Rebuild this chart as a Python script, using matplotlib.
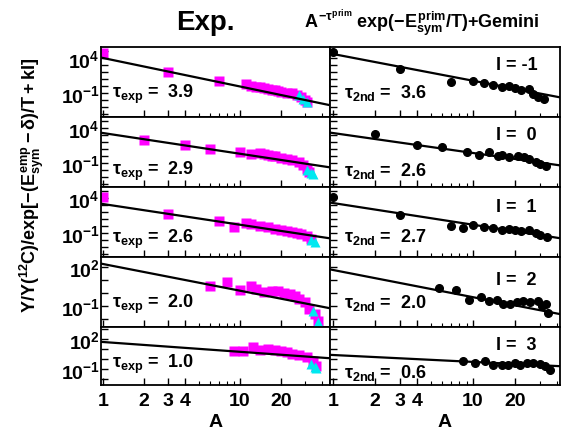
import matplotlib
matplotlib.use("Agg")
import matplotlib.pyplot as plt
import numpy as np

plt.rcParams['font.family'] = ['Liberation Sans', 'DejaVu Sans']
plt.rcParams['font.weight'] = 'bold'
plt.rcParams['mathtext.fontset'] = 'custom'
plt.rcParams['mathtext.rm'] = 'Liberation Sans:bold'
plt.rcParams['mathtext.it'] = 'Liberation Sans:bold'
plt.rcParams['mathtext.bf'] = 'Liberation Sans:bold'

# ---- data (y values stored as log10) ----
# left column: experiment (magenta squares + cyan triangles)
exp_A = [
    [1, 3, 7, 11, 12, 13, 14, 15, 16, 17, 18, 19, 20, 22, 24, 26, 28, 30, 31],
    [2, 4, 6, 10, 12, 14, 15, 16, 17, 18, 20, 22, 24, 27, 29, 31, 32],
    [1, 3, 7, 9, 11, 12, 14, 16, 18, 20, 22, 24, 26, 28, 31, 33],
    [6, 8, 10, 12, 13, 15, 17, 19, 21, 23, 25, 27, 30, 32, 35, 37],
    [9, 10.5, 12.4, 14, 16, 18, 20, 22, 24, 27, 31, 34, 36],
]
exp_logy = [
    [4.7, 2.0, 0.75, 0.3, 0.1, -0.1, -0.1, -0.25, -0.4, -0.55, -0.6, -0.75, -0.8, -0.9, -1.0, -1.2, -1.6, -2.0, -2.3],
    [2.3, 1.6, 1.05, 0.6, 0.3, 0.45, 0.3, 0.2, 0.05, 0.0, -0.2, -0.4, -0.6, -0.85, -1.3, -1.8, -2.3],
    [4.17, 1.75, 0.75, -0.1, 0.45, 0.3, 0.05, -0.15, -0.4, -0.5, -0.7, -0.85, -0.95, -1.1, -1.4, -1.8],
    [0.57, 0.88, 0.26, 0.57, 0.35, 0.1, 0.15, 0.18, 0.05, -0.05, -0.2, -0.43, -0.7, -1.2, -1.6, -2.1],
    [0.8, 0.8, 1.2, 0.9, 1.0, 0.9, 0.8, 0.7, 0.5, 0.4, 0.2, -0.2, -0.7],
]
cyan_A = [[27, 29, 31], [31, 33, 34], [33, 35], [34, 37], [33, 35, 36]]
cyan_logy = [[-1.3, -1.8, -2.3], [-2.0, -2.4, -2.6], [-1.9, -2.3], [-1.4, -2.2], [-0.5, -0.8, -0.9]]

# right column: primary + Gemini (black dots)
sim_A = [
    [1, 3, 7, 10, 12, 14, 16, 18, 20, 22, 25, 27, 29, 32],
    [2, 4, 6, 9, 11, 13, 15, 16, 18, 21, 23, 25, 28, 30, 33],
    [1, 3, 7, 8.5, 10, 12, 14, 16, 18, 20, 22, 25, 28, 30, 34],
    [5.7, 7.5, 9.4, 11.4, 13, 14.8, 16.4, 18.4, 20.6, 22.8, 25.5, 29, 31, 33, 34.4],
    [8.5, 10.3, 12.2, 13.9, 16, 17.8, 19.9, 21.6, 24.2, 26.8, 30, 32.6, 35.5],
]
sim_logy = [
    [4.9, 2.46, 0.6, 0.74, 0.46, 0.17, -0.11, 0.03, -0.26, -0.54, -0.4, -1.1, -1.54, -1.83],
    [3.17, 1.6, 1.31, 0.6, 0.17, 0.6, 0.03, 0.17, -0.11, 0.03, -0.11, -0.4, -0.83, -1.1, -1.4],
    [4.17, 1.6, 0.03, -0.26, 0.17, -0.11, -0.26, -0.54, -0.4, -0.54, -0.69, -0.54, -0.97, -1.26, -1.54],
    [0.42, 0.26, -0.5, -0.3, -0.6, -0.5, -0.8, -0.8, -0.7, -0.6, -0.7, -0.6, -1.0, -0.8, -1.5],
    [-0.2, -0.4, -0.2, -0.6, -0.6, -0.6, -0.4, -0.6, -0.4, -0.4, -0.5, -0.7, -1.1],
]

# power-law fit lines: log10(amplitude), slope
exp_fit = [(4.03, 4.07), (3.31, 2.96), (3.17, 2.96), (2.26, 2.06), (1.7, 0.98)]
sim_fit = [(4.6, 3.82), (3.31, 2.85), (3.31, 3.1), (1.8, 2.1), (0.4, 0.69)]

tau_exp = ["3.9", "2.9", "2.6", "2.0", "1.0"]
tau_2nd = ["3.6", "2.6", "2.7", "2.0", "0.6"]
I_labels = ["-1", " 0", " 1", " 2", " 3"]

row_ylim = [(-4.4, 5.6), (-4.4, 5.6), (-4.4, 5.6), (-2.6, 2.8), (-2.6, 3.2)]
row_labeled = [(4, -1), (4, -1), (4, -1), (2, -1), (2, -1)]
xticks = [1, 2, 3, 4, 10, 20]

# ---- layout (pixel boxes) ----
W, H = 575, 435
rows_px = [(48, 118), (118, 188), (188, 258), (258, 328), (328, 386)]
cols_px = [(101, 330), (330, 560)]
col_xlim = [(0.967, 45.4), (0.952, 41.8)]

fig = plt.figure(figsize=(W / 100, H / 100), dpi=100)

tau_y_exp = [0.29, 0.19, 0.21, 0.29, 0.31]
tau_y_2nd = [0.29, 0.17, 0.23, 0.29, 0.14]
I_y = [0.69, 0.69, 0.66, 0.61, 0.62]

for r in range(5):
    y0, y1 = rows_px[r]
    for c in range(2):
        x0, x1 = cols_px[c]
        ax = fig.add_axes([x0 / W, 1 - y1 / H, (x1 - x0) / W, (y1 - y0) / H])
        ax.set_xscale('log')
        ax.set_yscale('log')
        ax.set_xlim(*col_xlim[c])
        lo, hi = row_ylim[r]
        ax.set_ylim(10 ** lo, 10 ** hi)

        amp, s = (exp_fit if c == 0 else sim_fit)[r]
        xs = np.logspace(np.log10(col_xlim[c][0]), np.log10(col_xlim[c][1]), 50)
        ax.plot(xs, 10 ** amp * xs ** (-s), color='black', lw=1.6, zorder=4)

        if c == 0:
            ax.plot(exp_A[r], 10 ** np.array(exp_logy[r]), 's', color='#ff00ff',
                    ms=7, mec='none', zorder=2)
            ax.plot(cyan_A[r], 10 ** np.array(cyan_logy[r]), '^', color='#00e8f0',
                    ms=7, mec='none', zorder=3)
            ax.text(0.05, tau_y_exp[r], r"$\tau_{exp}$ =  " + tau_exp[r],
                    transform=ax.transAxes, fontsize=13, fontweight='bold', va='baseline')
        else:
            ax.plot(sim_A[r], 10 ** np.array(sim_logy[r]), 'o', color='black',
                    ms=5.5, zorder=5)
            ax.text(0.06, tau_y_2nd[r], r"$\tau_{2nd}$ =  " + tau_2nd[r],
                    transform=ax.transAxes, fontsize=13, fontweight='bold', va='baseline')
            ax.text(0.72, I_y[r], "I = " + I_labels[r], transform=ax.transAxes,
                    fontsize=13, fontweight='bold', va='baseline')

        decades = list(range(int(np.ceil(lo)), int(np.floor(hi)) + 1))
        ax.set_yticks([10.0 ** d for d in decades])
        ax.yaxis.set_minor_locator(matplotlib.ticker.NullLocator())
        if c == 0:
            ax.set_yticklabels([r"$10^{%d}$" % d if d in row_labeled[r] else "" for d in decades])
        else:
            ax.set_yticklabels([])
        ax.tick_params(axis='y', direction='in', length=5, width=1, labelsize=14, pad=1)

        ax.set_xticks(xticks)
        ax.xaxis.set_minor_locator(matplotlib.ticker.LogLocator(subs=np.arange(2, 10), numticks=20))
        ax.xaxis.set_minor_formatter(matplotlib.ticker.NullFormatter())
        if r == 4:
            ax.set_xticklabels([str(t) for t in xticks])
            ax.set_xlabel("A", fontsize=14, fontweight='bold', labelpad=3)
        else:
            ax.set_xticklabels([])
        ax.tick_params(axis='x', which='major', direction='in', length=5, width=1,
                       labelsize=14, pad=5)
        ax.tick_params(axis='x', which='minor', direction='in', length=3, width=0.8)
        for sp in ax.spines.values():
            sp.set_linewidth(1.3)

fig.text(205 / W, 1 - 23 / H, "Exp.", fontsize=20, fontweight='bold',
         ha='center', va='center')
fig.text(304 / W, 1 - 28 / H,
         r"$A^{-\tau^{prim}}$ $exp(-E^{prim}_{sym}/T)$+Gemini",
         fontsize=13, fontweight='bold', ha='left', va='baseline')
fig.text(32 / W, 1 - 313 / H,
         r"$Y/Y(^{12}C)/exp[-(E^{emp}_{sym}-\delta)/T+kI]$",
         fontsize=13, rotation=90, ha='center', va='bottom')

plt.savefig("out.png", dpi=100)
